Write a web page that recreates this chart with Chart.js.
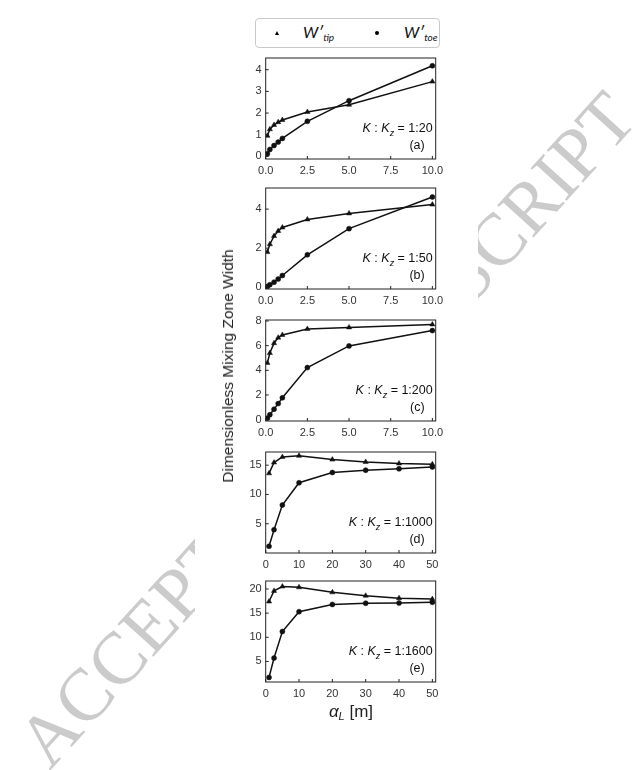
<!DOCTYPE html>
<html><head><meta charset="utf-8">
<script src="https://cdn.jsdelivr.net/npm/chart.js@4.4.0/dist/chart.umd.min.js"></script>
<style>
html,body{margin:0;padding:0;background:#fff;}
body{width:641px;height:770px;position:relative;overflow:hidden;font-family:"Liberation Sans",Arial,sans-serif;}
#wm{position:absolute;left:326px;top:429px;transform:translate(-50%,-50%) rotate(-47.8deg);font:74px "Liberation Serif",serif;color:#cbcbcb;white-space:nowrap;line-height:1;z-index:0;}
#cover{position:absolute;left:195px;top:0;width:283px;height:770px;background:#fff;z-index:1;}
canvas{position:absolute;z-index:2;}
#legend{position:absolute;left:255px;top:18px;width:185px;height:30px;box-sizing:border-box;border:1px solid #c9c9c9;border-radius:4px;z-index:3;background:#fff;}
#legend .tri{position:absolute;width:0;height:0;border-left:2.5px solid transparent;border-right:2.5px solid transparent;border-bottom:4px solid #000;}
#legend .dot{position:absolute;width:4px;height:4px;border-radius:50%;background:#000;}
#legend .lt{position:absolute;top:3px;font:italic 16px Lato,"Open Sans",sans-serif;color:#111;white-space:nowrap;}
#legend .lt sub{font-size:10px;vertical-align:-3px;}
#ytitle{position:absolute;left:228px;top:366px;transform:translate(-50%,-50%) rotate(-90deg);font:15.5px "Liberation Sans",Arial,sans-serif;color:#222;white-space:nowrap;z-index:3;}
#xtitle{position:absolute;left:351px;top:702px;transform:translateX(-50%);font:17px "Liberation Sans",Arial,sans-serif;color:#222;white-space:nowrap;z-index:3;}
#xtitle sub{font-size:11px;vertical-align:-3px;}
</style>
</head>
<body>
<div id="wm">ACCEPTED MANUSCRIPT</div>
<div id="cover"></div>
<div id="legend"></div>
<div id="ytitle">Dimensionless Mixing Zone Width</div>
<div id="xtitle"><i>α</i><sub><i>L</i></sub> [m]</div>
<script>
// ---------- data ----------
const seriesSubs = ['tip', 'toe'];
const xSmall = [0.1, 0.25, 0.5, 0.75, 1, 2.5, 5, 10];
const xLarge = [1, 2.5, 5, 10, 20, 30, 40, 50];

const tipA = [0.95, 1.25, 1.45, 1.58, 1.68, 2.05, 2.38, 3.45];
const toeA = [0.12, 0.32, 0.5, 0.66, 0.83, 1.62, 2.57, 4.18];
const tipB = [1.8, 2.2, 2.62, 2.88, 3.06, 3.47, 3.78, 4.23];
const toeB = [0.04, 0.13, 0.26, 0.42, 0.6, 1.66, 3.0, 4.62];
const tipC = [4.6, 5.4, 6.2, 6.65, 6.87, 7.35, 7.48, 7.72];
const toeC = [0.12, 0.4, 0.85, 1.3, 1.77, 4.22, 5.98, 7.22];
const tipD = [13.6, 15.45, 16.4, 16.6, 15.95, 15.55, 15.28, 15.15];
const toeD = [1.15, 3.98, 8.2, 12.0, 13.75, 14.15, 14.38, 14.7];
const tipE = [17.4, 19.6, 20.5, 20.35, 19.3, 18.6, 18.1, 17.9];
const toeE = [1.7, 5.7, 11.2, 15.3, 16.8, 17.05, 17.1, 17.25];

const ratioLabels = ['1:20', '1:50', '1:200', '1:1000', '1:1600'];
const panelTags = ['(a)', '(b)', '(c)', '(d)', '(e)'];

const xTicksSmall = [0, 2.5, 5, 7.5, 10];
const xTicksLarge = [0, 10, 20, 30, 40, 50];
const yTicksA = [0, 1, 2, 3, 4];
const yTicksB = [0, 2, 4];
const yTicksC = [0, 2, 4, 6, 8];
const yTicksD = [5, 10, 15];
const yTicksE = [5, 10, 15, 20];

const xRangeSmall = [0, 10.2];
const xRangeLarge = [0, 51];
const yRangeA = [-0.12, 4.54];
const yRangeB = [-0.09, 5.08];
const yRangeC = [-0.11, 8.08];
const yRangeD = [0, 17.25];
const yRangeE = [0.75, 21.65];

// ---------- layout ----------
const CANVAS_LEFT = 215, CANVAS_W = 235;
const AREA_LEFT = 265.7, AREA_RIGHT = 435.7;
const AREA_H = 101, TOP_PAD = 10, X_AXIS_H = 26;
const areaTops = [58, 188, 320, 452, 581];

const panels = [
  {xs: xSmall, tip: tipA, toe: toeA, xr: xRangeSmall, yr: yRangeA, xt: xTicksSmall, yt: yTicksA, dec: 1},
  {xs: xSmall, tip: tipB, toe: toeB, xr: xRangeSmall, yr: yRangeB, xt: xTicksSmall, yt: yTicksB, dec: 1},
  {xs: xSmall, tip: tipC, toe: toeC, xr: xRangeSmall, yr: yRangeC, xt: xTicksSmall, yt: yTicksC, dec: 1},
  {xs: xLarge, tip: tipD, toe: toeD, xr: xRangeLarge, yr: yRangeD, xt: xTicksLarge, yt: yTicksD, dec: 0},
  {xs: xLarge, tip: tipE, toe: toeE, xr: xRangeLarge, yr: yRangeE, xt: xTicksLarge, yt: yTicksE, dec: 0},
];

// legend
(function(){
  const lg = document.getElementById('legend');
  const markers = ['tri', 'dot'];
  const mPos = [[18.5, 12], [119, 12]];
  const tPos = [47, 148];
  seriesSubs.forEach((s, i) => {
    const m = document.createElement('span');
    m.className = markers[i];
    m.style.left = mPos[i][0] + 'px'; m.style.top = mPos[i][1] + 'px';
    lg.appendChild(m);
    const t = document.createElement('span');
    t.className = 'lt';
    t.style.left = tPos[i] + 'px';
    t.innerHTML = 'W′<sub>' + s + '</sub>';
    lg.appendChild(t);
  });
})();

Chart.defaults.font.family = '"Liberation Sans", Arial, sans-serif';

function richText(ctx, segs, xRight, y, size) {
  const fontOf = s => (s.it ? 'italic ' : '') + (s.sub ? size * 0.72 : size) + 'px "Liberation Sans", Arial, sans-serif';
  let total = 0;
  segs.forEach(s => { ctx.font = fontOf(s); s.w = ctx.measureText(s.t).width; total += s.w; });
  let x = xRight - total;
  segs.forEach(s => { ctx.font = fontOf(s); ctx.fillText(s.t, x, y + (s.sub ? size * 0.3 : 0)); x += s.w; });
}

const framePlugin = {
  id: 'frame',
  afterDatasetsDraw(chart, args, opts) {
    const {ctx, chartArea: a, scales} = chart;
    ctx.save();
    ctx.strokeStyle = '#222';
    ctx.lineWidth = 1;
    ctx.strokeRect(a.left, a.top, a.right - a.left, a.bottom - a.top);
    ctx.beginPath();
    scales.x.ticks.forEach(t => {
      const px = scales.x.getPixelForValue(t.value);
      ctx.moveTo(px, a.bottom); ctx.lineTo(px, a.bottom - 3);
    });
    scales.y.ticks.forEach(t => {
      const py = scales.y.getPixelForValue(t.value);
      ctx.moveTo(a.left, py); ctx.lineTo(a.left + 3, py);
    });
    ctx.stroke();
    ctx.fillStyle = '#111';
    ctx.textBaseline = 'alphabetic';
    ctx.textAlign = 'left';
    const size = 12.5;
    richText(ctx, [
      {t: 'K', it: true}, {t: ' : '}, {t: 'K', it: true}, {t: 'z', it: true, sub: true},
      {t: ' = ' + opts.ratio}
    ], a.right - 3, a.bottom - 27, size);
    ctx.font = size + 'px "Liberation Sans", Arial, sans-serif';
    ctx.textAlign = 'right';
    ctx.fillText(opts.tag, a.right - 11, a.bottom - 10);
    ctx.restore();
  }
};

panels.forEach((p, i) => {
  const cv = document.createElement('canvas');
  const H = TOP_PAD + AREA_H + X_AXIS_H;
  cv.width = CANVAS_W; cv.height = H;
  cv.style.left = CANVAS_LEFT + 'px';
  cv.style.top = (areaTops[i] - TOP_PAD) + 'px';
  cv.style.width = CANVAS_W + 'px'; cv.style.height = H + 'px';
  document.body.appendChild(cv);
  const mk = ys => p.xs.map((x, k) => ({x: x, y: ys[k]}));
  new Chart(cv, {
    type: 'line',
    data: {
      datasets: [
        {label: 'tip', data: mk(p.tip), pointStyle: 'triangle', pointRadius: 3, borderColor: '#111', backgroundColor: '#111', pointBackgroundColor: '#111', pointBorderWidth: 0.5, borderWidth: 1.5, tension: 0},
        {label: 'toe', data: mk(p.toe), pointStyle: 'circle', pointRadius: 2.5, borderColor: '#111', backgroundColor: '#111', pointBackgroundColor: '#111', pointBorderWidth: 0.5, borderWidth: 1.5, tension: 0},
      ]
    },
    options: {
      responsive: false,
      animation: false,
      devicePixelRatio: 1,
      layout: {padding: {top: TOP_PAD, right: CANVAS_LEFT + CANVAS_W - AREA_RIGHT, left: 0, bottom: 0}},
      plugins: {legend: {display: false}, tooltip: {enabled: false}, frame: {ratio: ratioLabels[i], tag: panelTags[i]}},
      scales: {
        x: {
          type: 'linear', min: p.xr[0], max: p.xr[1],
          grid: {display: false, drawTicks: false}, border: {display: false},
          ticks: {color: '#333', font: {size: 11}, padding: 5, maxRotation: 0, autoSkip: false,
            callback: v => v.toFixed(p.dec)},
          afterBuildTicks: s => { s.ticks = p.xt.map(v => ({value: v})); },
          afterFit: s => { s.height = X_AXIS_H; s.paddingLeft = 0; s.paddingRight = 0; }
        },
        y: {
          type: 'linear', min: p.yr[0], max: p.yr[1],
          grid: {display: false, drawTicks: false}, border: {display: false},
          ticks: {color: '#333', font: {size: 11}, padding: 4, autoSkip: false,
            callback: v => String(v)},
          afterBuildTicks: s => { s.ticks = p.yt.map(v => ({value: v})); },
          afterFit: s => { s.width = AREA_LEFT - CANVAS_LEFT; s.paddingTop = 0; s.paddingBottom = 0; }
        }
      }
    },
    plugins: [framePlugin]
  });
});
</script>
</body></html>
